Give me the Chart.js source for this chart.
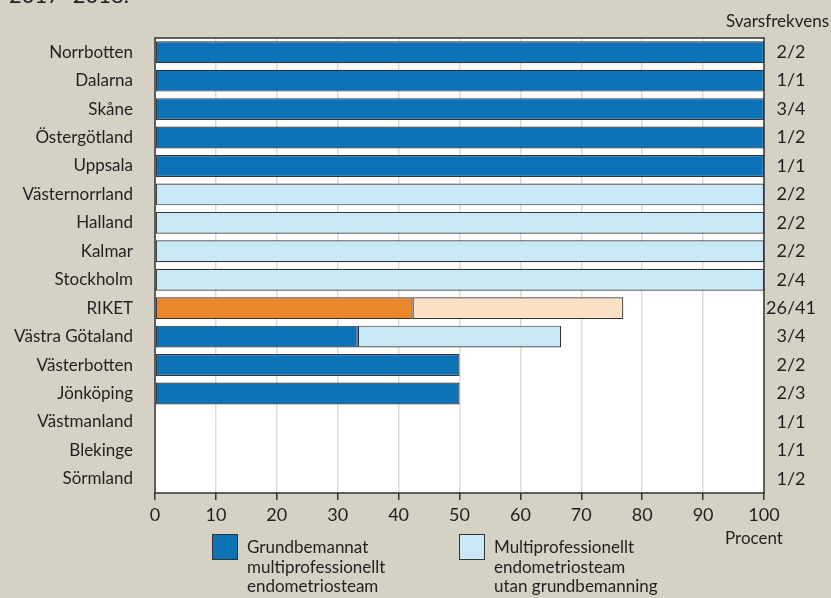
<!DOCTYPE html>
<html>
<head>
<meta charset="utf-8">
<script src="https://cdn.jsdelivr.net/npm/chart.js@4"></script>
<style>
  html, body { margin: 0; padding: 0; background: #d5d1c5; }
  #wrap { width: 831px; height: 598px; position: relative; }
</style>
</head>
<body>
<div id="wrap"><canvas id="chart" width="831" height="598"></canvas></div>
<script>
// Data
const regions = ['Norrbotten', 'Dalarna', 'Skåne', 'Östergötland', 'Uppsala',
  'Västernorrland', 'Halland', 'Kalmar', 'Stockholm', 'RIKET',
  'Västra Götaland', 'Västerbotten', 'Jönköping', 'Västmanland', 'Blekinge', 'Sörmland'];
const responseRates = ['2/2', '1/1', '3/4', '1/2', '1/1', '2/2', '2/2', '2/2', '2/4',
  '26/41', '3/4', '2/2', '2/3', '1/1', '1/1', '1/2'];
const staffedTeam = [100, 100, 100, 100, 100, null, null, null, null, 42.3, 33.3, 50, 50, null, null, null];
const unstaffedTeam = [null, null, null, null, null, 100, 100, 100, 100, 34.6, 33.4, null, null, null, null, null];
const xTicks = [0, 10, 20, 30, 40, 50, 60, 70, 80, 90, 100];

const FONT = 'Lato, "Open Sans", sans-serif';
const TEXT = '#231f20';
const totalIndex = regions.indexOf('RIKET');

// per-bar colours: RIKET is orange/peach
const darkColors = regions.map((r, i) => i === totalIndex ? '#e9872a' : '#0d72b6');
const lightColors = regions.map((r, i) => i === totalIndex ? '#fbe0c3' : '#c8e8f8');

// white plot area and frame
const plotArea = {
    id: 'plotArea',
    beforeDraw: function(chart) {
        const a = chart.chartArea;
        const ctx = chart.ctx;
        ctx.save();
        ctx.fillStyle = '#ffffff';
        ctx.fillRect(a.left, a.top, a.right - a.left, a.bottom - a.top);
        ctx.restore();
    },
    afterDraw: function(chart) {
        const a = chart.chartArea;
        const ctx = chart.ctx;
        ctx.save();
        ctx.strokeStyle = '#333333';
        ctx.lineWidth = 1.5;
        ctx.strokeRect(a.left, a.top, a.right - a.left, a.bottom - a.top);
        ctx.restore();
    }
};

// extra texts and legend
const annotations = {
    id: 'annotations',
    afterDraw: function(chart) {
        const ctx = chart.ctx;
        ctx.save();
        ctx.fillStyle = TEXT;
        ctx.font = '22px ' + FONT;
        ctx.textBaseline = 'alphabetic';
        ctx.textAlign = 'left';
        ctx.fillText('2017–2018.', 9, 3);

        ctx.font = '17px ' + FONT;
        ctx.textAlign = 'right';
        ctx.fillText('Svarsfrekvens', 829, 27);

        ctx.textAlign = 'center';
        ctx.fillText('Procent', 754, 544);

        // legend
        const items = [
            { x: 212, color: '#0d72b6', lines: ['Grundbemannat', 'multiprofessionellt', 'endometriosteam'] },
            { x: 459, color: '#c8e8f8', lines: ['Multiprofessionellt', 'endometriosteam', 'utan grundbemanning'] }
        ];
        items.forEach(function(item) {
            ctx.fillStyle = item.color;
            ctx.fillRect(item.x, 534, 25, 25);
            ctx.strokeStyle = '#333333';
            ctx.lineWidth = 1;
            ctx.strokeRect(item.x + 0.5, 534.5, 25, 25);
            ctx.fillStyle = TEXT;
            ctx.textAlign = 'left';
            item.lines.forEach(function(line, i) {
                ctx.fillText(line, item.x + 35, 553 + i * 19.5);
            });
        });
        ctx.restore();
    }
};

new Chart(document.getElementById('chart'), {
    type: 'bar',
    data: {
        labels: regions,
        datasets: [{
            label: 'Grundbemannat multiprofessionellt endometriosteam',
            data: staffedTeam,
            backgroundColor: darkColors,
            borderColor: '#333333',
            borderWidth: 1.2,
            borderSkipped: false,
            barPercentage: 0.77,
            categoryPercentage: 1
        }, {
            label: 'Multiprofessionellt endometriosteam utan grundbemanning',
            data: unstaffedTeam,
            backgroundColor: lightColors,
            borderColor: '#333333',
            borderWidth: 1.2,
            borderSkipped: false,
            barPercentage: 0.77,
            categoryPercentage: 1
        }]
    },
    options: {
        indexAxis: 'y',
        responsive: false,
        animation: false,
        layout: { padding: { top: 38, left: 0, right: 0, bottom: 0 } },
        plugins: {
            legend: { display: false },
            tooltip: { enabled: false }
        },
        scales: {
            x: {
                stacked: true,
                min: 0,
                max: 100,
                afterBuildTicks: function(axis) {
                    axis.ticks = xTicks.map(v => ({ value: v }));
                },
                afterFit: function(axis) { axis.height = 105; },
                grid: {
                    color: '#dedbd3',
                    lineWidth: 1.5,
                    tickColor: '#333333',
                    tickLength: 7,
                    drawTicks: true
                },
                border: { display: false },
                ticks: {
                    color: TEXT,
                    font: { family: FONT, size: 18 },
                    padding: 4,
                    maxRotation: 0
                }
            },
            y: {
                stacked: true,
                afterFit: function(axis) { axis.width = 155; },
                grid: { display: false },
                border: { display: false },
                ticks: {
                    color: TEXT,
                    font: { family: FONT, size: 17 },
                    padding: 14
                }
            },
            rates: {
                type: 'category',
                position: 'right',
                labels: responseRates,
                offset: true,
                afterFit: function(axis) { axis.width = 67; },
                grid: { display: false, drawTicks: false },
                border: { display: false },
                ticks: {
                    color: TEXT,
                    font: { family: FONT, size: 18 },
                    crossAlign: 'center',
                    padding: 2
                }
            }
        }
    },
    plugins: [plotArea, annotations]
});
</script>
</body>
</html>
